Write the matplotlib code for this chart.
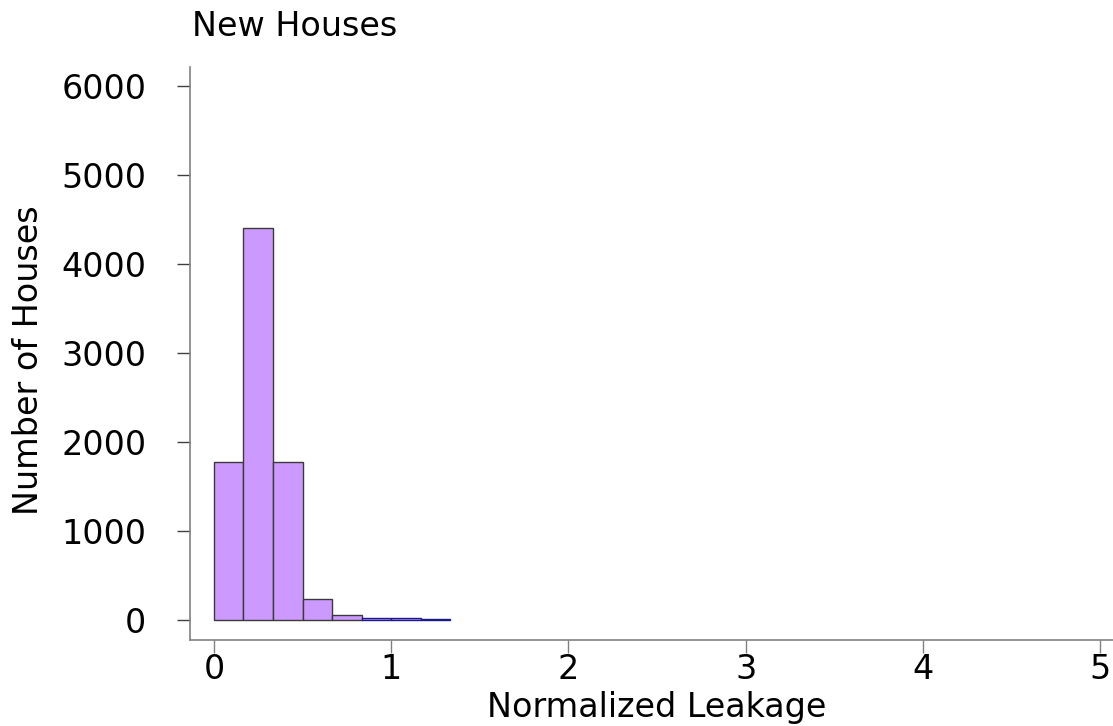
import matplotlib
matplotlib.use("Agg")
import matplotlib.pyplot as plt
import numpy as np

# histogram data (bin width 1/6)
bin_edges = np.arange(0, 9) / 6.0
counts = [1770, 4400, 1770, 235, 58, 20, 18, 8]
edge_colors = ['#3a3a3a'] * 5 + ['#1a1a8c'] * 3

x_ticks = [0, 1, 2, 3, 4, 5]
y_ticks = [0, 1000, 2000, 3000, 4000, 5000, 6000]

plt.rcParams['font.family'] = ['DejaVu Sans']

fig = plt.figure(figsize=(11.13, 7.26), dpi=100)
ax = fig.add_axes([190 / 1113, 86 / 726, 923 / 1113, 573 / 726])

ax.bar(bin_edges[:-1], counts, width=1 / 6, align='edge',
       color='#cc99ff', edgecolor=edge_colors, linewidth=1.0)

ax.set_xlim(-0.135, 5.073)
ax.set_ylim(-225, 6213)

for side in ['top', 'right']:
    ax.spines[side].set_visible(False)
for side in ['left', 'bottom']:
    ax.spines[side].set_color('#808080')
    ax.spines[side].set_linewidth(1.2)

ax.set_xticks(x_ticks)
ax.set_yticks(y_ticks)
ax.tick_params(axis='x', length=9.5, width=1, color='#808080', pad=0, labelsize=24)
ax.tick_params(axis='y', length=9.5, width=1, color='#404040', pad=22, labelsize=24)

ax.set_xlabel('Normalized Leakage', fontsize=24, va='center')
ax.xaxis.set_label_coords((657 - 190) / 923, -0.118)
ax.set_ylabel('Number of Houses', fontsize=24, va='center')
ax.yaxis.set_label_coords(-0.175, 0.489)

fig.text(192 / 1113, 1 - 27 / 726, 'New Houses', fontsize=24, va='center', ha='left')

fig.savefig('out.png', dpi=100)
